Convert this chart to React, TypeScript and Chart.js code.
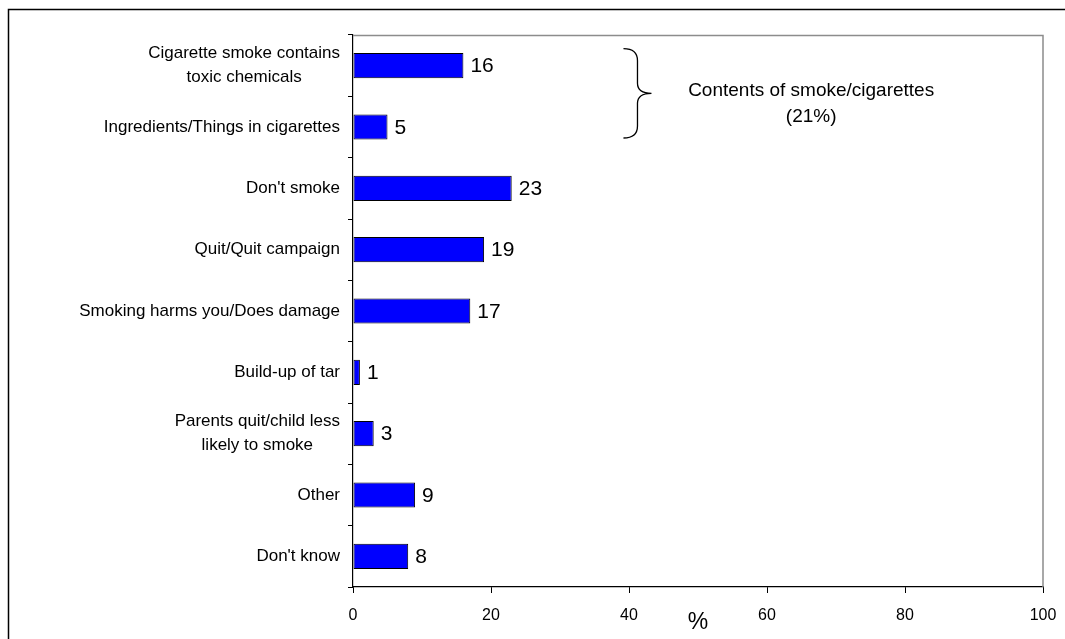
import React, { useEffect, useRef } from "react";
import { Chart, registerables } from "chart.js";

Chart.register(...registerables);

const categories: (string | string[])[] = [
  ["Cigarette smoke contains", "toxic chemicals"],
  "Ingredients/Things in cigarettes",
  "Don't smoke",
  "Quit/Quit campaign",
  "Smoking harms you/Does damage",
  "Build-up of tar",
  ["Parents quit/child less", "likely to smoke"],
  "Other",
  "Don't know",
];
const values = [16, 5, 23, 19, 17, 1, 3, 9, 8];
const xMin = 0;
const xMax = 100;
const xStep = 20;
const axisTitle = "%";
const groupLabel = ["Contents of smoke/cigarettes", "(21%)"];
const groupIndices = [0, 1];

const FONT = "'Liberation Sans', Arial, Helvetica, sans-serif";

const decorPlugin = {
  id: "decor",
  beforeDraw(chart: any) {
    const ctx = chart.ctx;
    ctx.save();
    ctx.fillStyle = "#ffffff";
    ctx.fillRect(0, 0, chart.width, chart.height);
    ctx.restore();
  },
  afterDraw(chart: any) {
    const ctx = chart.ctx;
    const area = chart.chartArea;
    ctx.save();
    // outer frame (top + left)
    ctx.strokeStyle = "#000000";
    ctx.lineWidth = 1.5;
    ctx.beginPath();
    ctx.moveTo(8.5, chart.height);
    ctx.lineTo(8.5, 9.5);
    ctx.lineTo(chart.width, 9.5);
    ctx.stroke();
    // plot-area frame top + right (gray)
    ctx.strokeStyle = "#8c8c8c";
    ctx.lineWidth = 1.5;
    ctx.beginPath();
    ctx.moveTo(area.left, area.top + 0.5);
    ctx.lineTo(area.right, area.top + 0.5);
    ctx.lineTo(area.right, area.bottom);
    ctx.stroke();

    // category labels (multi-line blocks centred, block right-aligned)
    const yScale = chart.scales.y;
    ctx.fillStyle = "#000000";
    ctx.font = `17px ${FONT}`;
    ctx.textAlign = "center";
    ctx.textBaseline = "middle";
    const labelRight = area.left - 13;
    const lh = 24;
    categories.forEach((lab, i) => {
      const lines = Array.isArray(lab) ? lab : [lab];
      const maxW = Math.max(...lines.map((l) => ctx.measureText(l).width));
      const cx = labelRight - maxW / 2;
      const cy = yScale.getPixelForValue(i);
      lines.forEach((l, k) => {
        ctx.fillText(l, cx, cy + (k - (lines.length - 1) / 2) * lh);
      });
    });

    // value labels
    const meta = chart.getDatasetMeta(0);
    ctx.font = `21px ${FONT}`;
    ctx.textAlign = "left";
    ctx.textBaseline = "middle";
    meta.data.forEach((bar: any, i: number) => {
      ctx.fillText(String(values[i]), bar.x + 7, bar.y + 1);
    });

    // axis title
    ctx.font = `23px ${FONT}`;
    ctx.textAlign = "center";
    ctx.fillText(axisTitle, (area.left + area.right) / 2, 623);

    // bracket
    const y0 = yScale.getPixelForValue(groupIndices[0]);
    const y1 = yScale.getPixelForValue(groupIndices[1]);
    const top = y0 - 17;
    const bottom = y1 + 11;
    const mid = (top + bottom) / 2;
    const xs = chart.scales.x;
    const bx0 = xs.getPixelForValue(39.2);
    const bx1 = bx0 + 14;
    const bx2 = bx0 + 28;
    ctx.strokeStyle = "#000000";
    ctx.lineWidth = 1.3;
    ctx.beginPath();
    ctx.moveTo(bx0, top);
    ctx.quadraticCurveTo(bx1, top, bx1, top + 12);
    ctx.lineTo(bx1, mid - 10);
    ctx.quadraticCurveTo(bx1, mid, bx2, mid);
    ctx.quadraticCurveTo(bx1, mid, bx1, mid + 10);
    ctx.lineTo(bx1, bottom - 12);
    ctx.quadraticCurveTo(bx1, bottom, bx0, bottom);
    ctx.stroke();

    // group label
    ctx.font = `19px ${FONT}`;
    ctx.textAlign = "center";
    ctx.textBaseline = "middle";
    const tx = xs.getPixelForValue(66.4);
    ctx.fillText(groupLabel[0], tx, mid - 3);
    ctx.fillText(groupLabel[1], tx, mid + 23);
    ctx.restore();
  },
};

export default function App() {
  const ref = useRef<HTMLCanvasElement | null>(null);
  useEffect(() => {
    if (!ref.current) return;
    const chart = new Chart(ref.current, {
      type: "bar",
      data: {
        labels: categories,
        datasets: [
          {
            data: values,
            backgroundColor: "#0000ff",
            borderColor: "#000000",
            borderWidth: 1,
            borderSkipped: false,
            barPercentage: 0.41,
            categoryPercentage: 1,
          },
        ],
      },
      options: {
        indexAxis: "y",
        animation: false,
        responsive: false,
        maintainAspectRatio: false,
        layout: { padding: { top: 35, right: 22, left: 0, bottom: 0 } },
        plugins: {
          legend: { display: false },
          tooltip: { enabled: false },
          title: { display: false },
        },
        scales: {
          x: {
            type: "linear",
            min: xMin,
            max: xMax,
            ticks: {
              stepSize: xStep,
              color: "#000000",
              padding: 13,
              font: { family: FONT, size: 16 },
            },
            grid: {
              display: true,
              drawOnChartArea: false,
              drawTicks: true,
              tickLength: 6,
              color: "#000000",
            },
            border: { display: true, color: "#000000", width: 1.2 },
            afterFit: (s: any) => {
              s.height = 52;
              s.paddingLeft = 0;
              s.paddingRight = 0;
            },
          },
          y: {
            type: "category",
            ticks: {
              color: "rgba(0,0,0,0)",
              padding: 8,
              font: { family: FONT, size: 17, lineHeight: 1.4 },
            },
            grid: {
              display: true,
              drawOnChartArea: false,
              drawTicks: true,
              tickLength: 5,
              color: "#000000",
              offset: true,
            },
            border: { display: true, color: "#000000", width: 1.2 },
            afterFit: (s: any) => {
              s.width = 353;
              s.paddingTop = 0;
              s.paddingBottom = 0;
            },
          },
        },
      },
      plugins: [decorPlugin],
    });
    return () => chart.destroy();
  }, []);
  return (
    <div style={{ position: "absolute", left: 0, top: 0, width: 1065, height: 639 }}>
      <canvas ref={ref} width={1065} height={639} style={{ display: "block" }} />
    </div>
  );
}
